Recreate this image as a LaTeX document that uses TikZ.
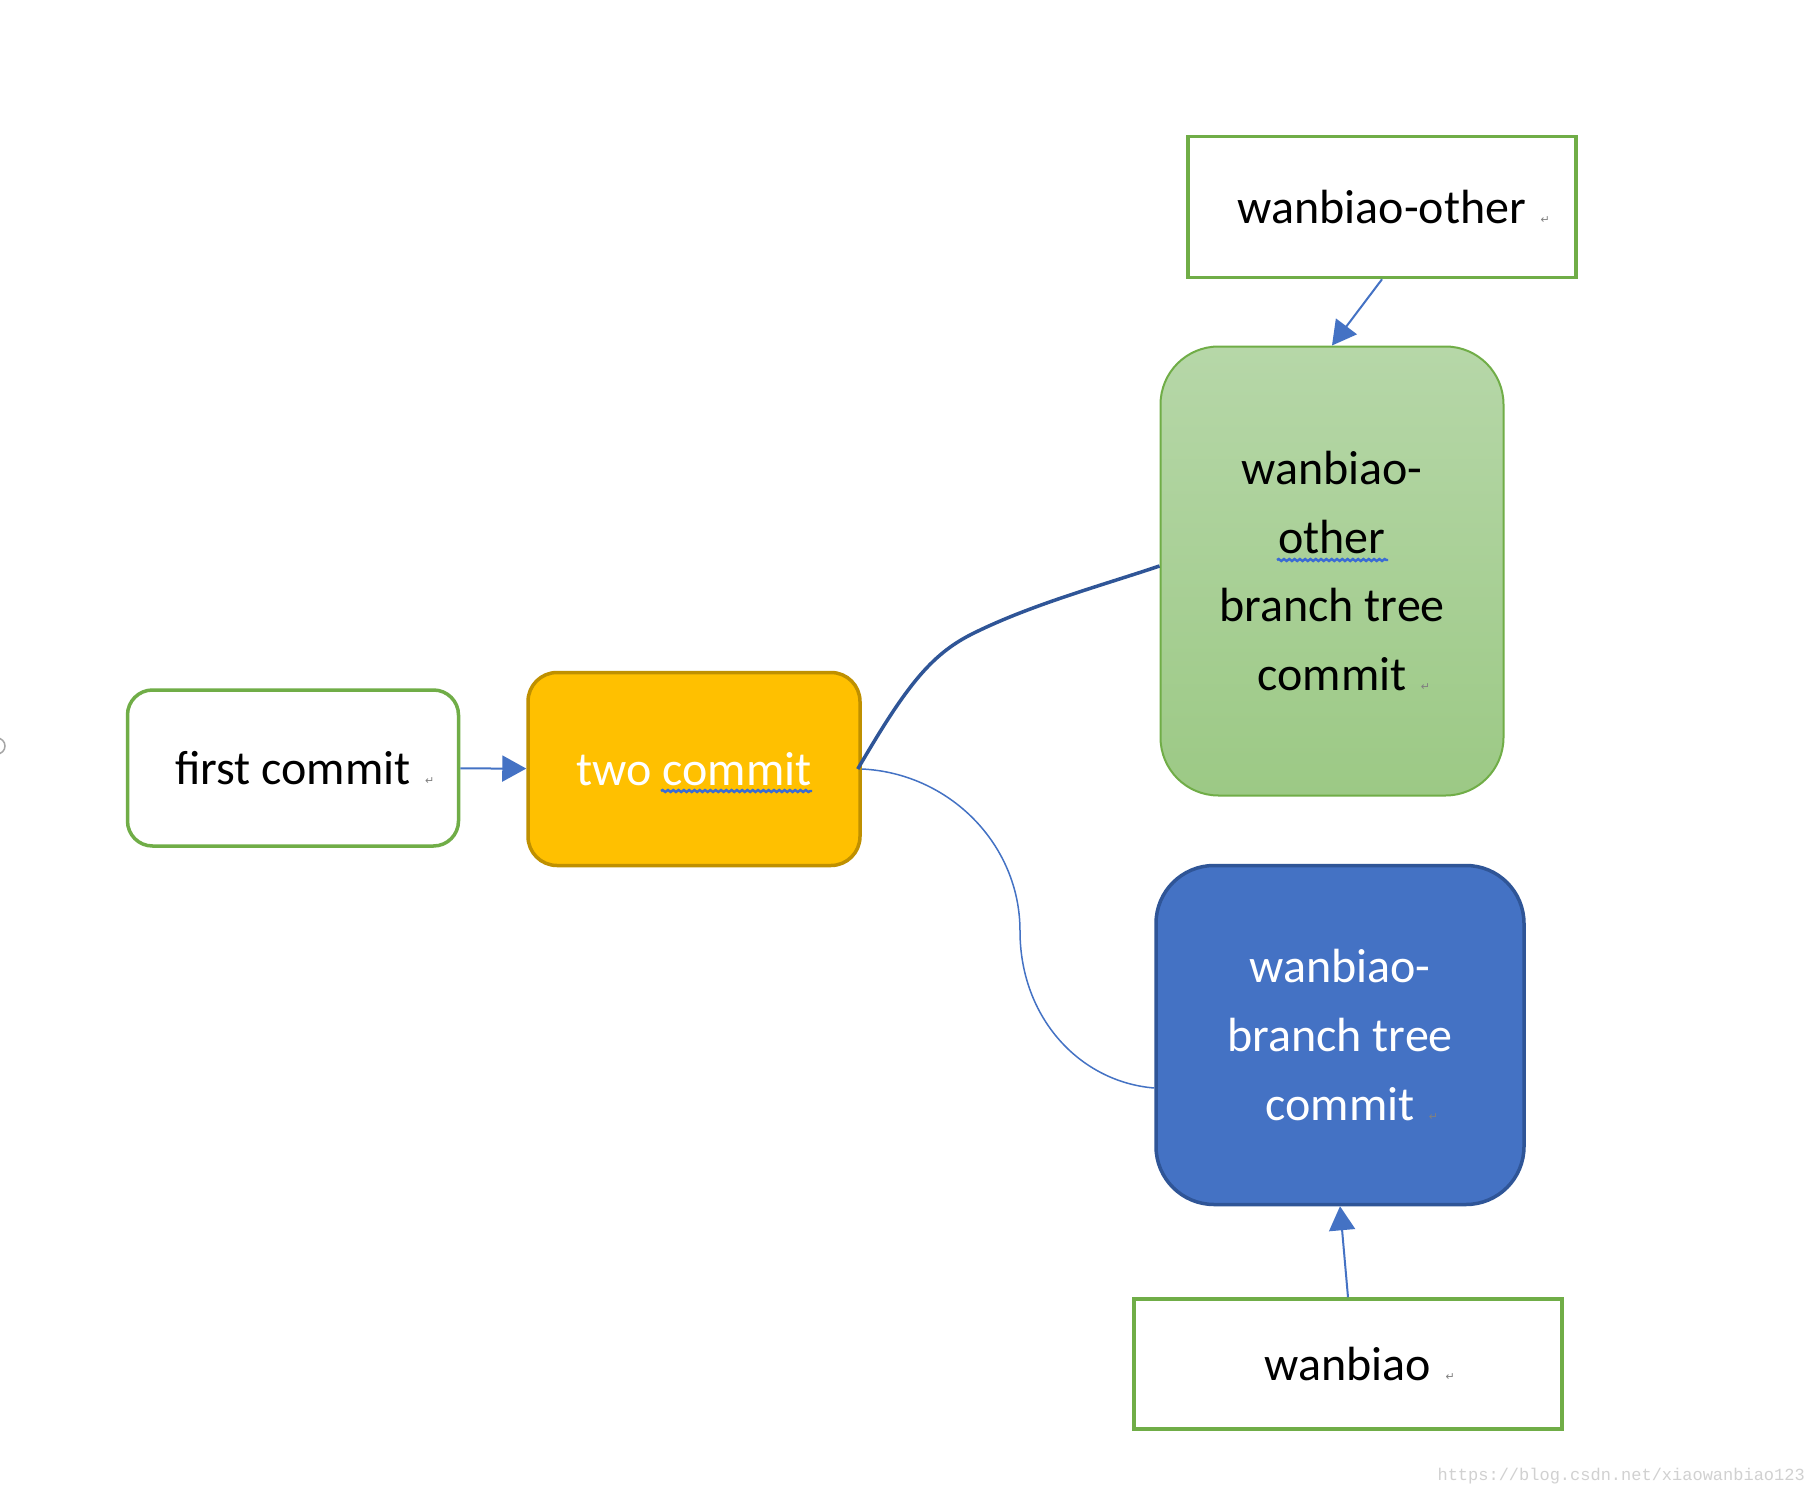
\documentclass[tikz,border=0pt]{standalone}
\usepackage{fontspec}
\setmainfont{Carlito}
\newfontfamily\symfont{DejaVu Sans}
\newfontfamily\wmfont{Liberation Mono}
\usetikzlibrary{arrows.meta,decorations.pathmorphing}
\definecolor{xgreen}{HTML}{70AD47}
\definecolor{xblue}{HTML}{4472C4}
\definecolor{xdblue}{HTML}{2F5597}
\definecolor{xgold}{HTML}{FFC000}
\definecolor{xgoldd}{HTML}{BF9000}
\definecolor{xlgtop}{HTML}{B6D7A8}
\definecolor{xlgbot}{HTML}{9CC985}
\definecolor{xsquig}{HTML}{3A6BD4}
\newcommand{\pmark}{\rlap{\hspace{0.3em}{\symfont\fontsize{11}{11}\selectfont\color{gray}↵}}}
\begin{document}
\begin{tikzpicture}[x=1pt,y=-1pt,
  lbl/.style={inner sep=0pt, font=\fontsize{48}{68.6}\selectfont, align=center},
  rectbox/.style={lbl, draw=xgreen, line width=3.5pt, fill=white},
  link/.style={draw=xblue, line width=2pt, -{Triangle[length=24pt,width=26pt]}},
  squig/.style={draw=xsquig, line width=2.4pt, decorate, decoration={snake, amplitude=1pt, segment length=5.3pt}}]
\useasboundingbox (0,0) rectangle (1813,1493);
\fill[white] (0,0) rectangle (1813,1493);

\node[rectbox, rounded corners=25pt, minimum width=331pt, minimum height=156pt] (first) at (293,768) {first commit\pmark};
\node[lbl, draw=xgoldd, fill=xgold, line width=3.5pt, rounded corners=29pt, minimum width=332pt, minimum height=193pt, text=white] (two) at (694,769) {two commit};
\node[rectbox, minimum width=388pt, minimum height=141pt] (other) at (1382,207) {wanbiao-other\pmark};
\node[lbl, draw=xgreen, line width=2pt, top color=xlgtop, bottom color=xlgbot, rounded corners=58pt, minimum width=343pt, minimum height=449pt] (green) at (1332,571) {wanbiao-\\other\\branch tree\\commit\pmark};
\node[lbl, draw=xdblue, fill=xblue, line width=3.5pt, rounded corners=58pt, minimum width=368pt, minimum height=339pt, text=white] (blue) at (1340,1035) {wanbiao-\\branch tree\\commit\pmark};
\node[rectbox, minimum width=428pt, minimum height=130pt] (wan) at (1348,1364) {wanbiao\pmark};

\coordinate (gIn) at ([yshift=5pt]green.west);
\coordinate (bIn) at ([yshift=-53pt]blue.west);

\draw[link] (first) -- (two);
\draw[link] (other.south) -- (green.north);
\draw[link] (wan.north) -- (blue.south);

\draw[xdblue, line width=3.5pt] ([xshift=-4pt]two.east) .. controls (905,688) and (930,655) .. (972,634) .. controls (1030,605) and (1100,586) .. (gIn);
\draw[xblue, line width=1.5pt] (two.east) .. controls (949,773) and (1020,844) .. (1020,931) .. controls (1020,1018) and (1080,1082) .. (bIn);

\draw[squig] (661,791) -- (812,791);
\draw[squig] (1277,560) -- (1388,560);

\draw[gray!70, line width=1.5pt] (-3,746) circle (8);
\node[anchor=base east, inner sep=0pt, text=black!18, font=\wmfont\fontsize{17}{17}\selectfont] (wm) at (1805,1480) {https://blog.csdn.net/xiaowanbiao123};
\end{tikzpicture}
\end{document}
